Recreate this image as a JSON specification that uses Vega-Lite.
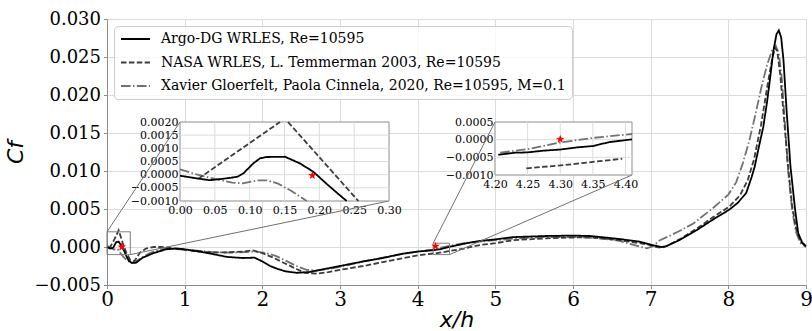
{
  "$schema": "https://vega.github.io/schema/vega-lite/v6.json",
  "autosize": "none",
  "width": 699,
  "height": 266,
  "padding": {"left": 107, "top": 19, "right": 6, "bottom": 46},
  "background": "white",
  "config": {
    "view": {"stroke": "#8c8c8c", "strokeWidth": 1},
    "axis": {"labelFont": "DejaVu Serif", "labelColor": "#000000", "tickColor": "#8c8c8c", "domainColor": "#8c8c8c", "gridColor": "#dcdcdc", "gridWidth": 1, "titleColor": "#000000", "labelOverlap": false, "labelSeparation": 0},
    "legend": {"padding": 6, "fillColor": "rgba(255,255,255,0.8)", "strokeColor": "#cccccc", "cornerRadius": 4, "labelFont": "DejaVu Serif", "labelFontSize": 14, "labelColor": "#000000", "labelLimit": 0, "symbolType": "stroke", "symbolSize": 841, "symbolStrokeWidth": 1.8, "rowPadding": 9.5, "clipHeight": 14, "labelOffset": 10}
  },
  "datasets": {
    "main": [
      {"s": "Xavier Gloerfelt, Paola Cinnela, 2020, Re=10595, M=0.1", "x": 0, "y": 0.0002},
      {"s": "Xavier Gloerfelt, Paola Cinnela, 2020, Re=10595, M=0.1", "x": 0.05, "y": -0.00016},
      {"s": "Xavier Gloerfelt, Paola Cinnela, 2020, Re=10595, M=0.1", "x": 0.09, "y": -0.00033},
      {"s": "Xavier Gloerfelt, Paola Cinnela, 2020, Re=10595, M=0.1", "x": 0.12, "y": -0.00021},
      {"s": "Xavier Gloerfelt, Paola Cinnela, 2020, Re=10595, M=0.1", "x": 0.14, "y": -0.00033},
      {"s": "Xavier Gloerfelt, Paola Cinnela, 2020, Re=10595, M=0.1", "x": 0.18, "y": -0.0009},
      {"s": "Xavier Gloerfelt, Paola Cinnela, 2020, Re=10595, M=0.1", "x": 0.22, "y": -0.0014},
      {"s": "Xavier Gloerfelt, Paola Cinnela, 2020, Re=10595, M=0.1", "x": 0.28, "y": -0.0019},
      {"s": "Xavier Gloerfelt, Paola Cinnela, 2020, Re=10595, M=0.1", "x": 0.33, "y": -0.0021},
      {"s": "Xavier Gloerfelt, Paola Cinnela, 2020, Re=10595, M=0.1", "x": 0.4, "y": -0.0017},
      {"s": "Xavier Gloerfelt, Paola Cinnela, 2020, Re=10595, M=0.1", "x": 0.55, "y": -0.0008},
      {"s": "Xavier Gloerfelt, Paola Cinnela, 2020, Re=10595, M=0.1", "x": 0.7, "y": -0.0003},
      {"s": "Xavier Gloerfelt, Paola Cinnela, 2020, Re=10595, M=0.1", "x": 0.8, "y": -0.0002},
      {"s": "Xavier Gloerfelt, Paola Cinnela, 2020, Re=10595, M=0.1", "x": 0.99, "y": -0.00035},
      {"s": "Xavier Gloerfelt, Paola Cinnela, 2020, Re=10595, M=0.1", "x": 1.19, "y": -0.0005},
      {"s": "Xavier Gloerfelt, Paola Cinnela, 2020, Re=10595, M=0.1", "x": 1.4, "y": -0.0007},
      {"s": "Xavier Gloerfelt, Paola Cinnela, 2020, Re=10595, M=0.1", "x": 1.6, "y": -0.00075},
      {"s": "Xavier Gloerfelt, Paola Cinnela, 2020, Re=10595, M=0.1", "x": 1.79, "y": -0.00066},
      {"s": "Xavier Gloerfelt, Paola Cinnela, 2020, Re=10595, M=0.1", "x": 1.92, "y": -0.0006},
      {"s": "Xavier Gloerfelt, Paola Cinnela, 2020, Re=10595, M=0.1", "x": 2.05, "y": -0.0008},
      {"s": "Xavier Gloerfelt, Paola Cinnela, 2020, Re=10595, M=0.1", "x": 2.18, "y": -0.0012},
      {"s": "Xavier Gloerfelt, Paola Cinnela, 2020, Re=10595, M=0.1", "x": 2.3, "y": -0.0018},
      {"s": "Xavier Gloerfelt, Paola Cinnela, 2020, Re=10595, M=0.1", "x": 2.44, "y": -0.0025},
      {"s": "Xavier Gloerfelt, Paola Cinnela, 2020, Re=10595, M=0.1", "x": 2.57, "y": -0.003},
      {"s": "Xavier Gloerfelt, Paola Cinnela, 2020, Re=10595, M=0.1", "x": 2.7, "y": -0.0031},
      {"s": "Xavier Gloerfelt, Paola Cinnela, 2020, Re=10595, M=0.1", "x": 2.9, "y": -0.0028},
      {"s": "Xavier Gloerfelt, Paola Cinnela, 2020, Re=10595, M=0.1", "x": 3.1, "y": -0.0024},
      {"s": "Xavier Gloerfelt, Paola Cinnela, 2020, Re=10595, M=0.1", "x": 3.3, "y": -0.0019},
      {"s": "Xavier Gloerfelt, Paola Cinnela, 2020, Re=10595, M=0.1", "x": 3.55, "y": -0.0014},
      {"s": "Xavier Gloerfelt, Paola Cinnela, 2020, Re=10595, M=0.1", "x": 3.8, "y": -0.0009},
      {"s": "Xavier Gloerfelt, Paola Cinnela, 2020, Re=10595, M=0.1", "x": 4.0, "y": -0.0006},
      {"s": "Xavier Gloerfelt, Paola Cinnela, 2020, Re=10595, M=0.1", "x": 4.21, "y": -0.00036},
      {"s": "Xavier Gloerfelt, Paola Cinnela, 2020, Re=10595, M=0.1", "x": 4.3, "y": -0.00008},
      {"s": "Xavier Gloerfelt, Paola Cinnela, 2020, Re=10595, M=0.1", "x": 4.41, "y": 0.00016},
      {"s": "Xavier Gloerfelt, Paola Cinnela, 2020, Re=10595, M=0.1", "x": 4.6, "y": 0.0005},
      {"s": "Xavier Gloerfelt, Paola Cinnela, 2020, Re=10595, M=0.1", "x": 4.8, "y": 0.0007},
      {"s": "Xavier Gloerfelt, Paola Cinnela, 2020, Re=10595, M=0.1", "x": 5.0, "y": 0.0009},
      {"s": "Xavier Gloerfelt, Paola Cinnela, 2020, Re=10595, M=0.1", "x": 5.23, "y": 0.0011},
      {"s": "Xavier Gloerfelt, Paola Cinnela, 2020, Re=10595, M=0.1", "x": 5.6, "y": 0.0013},
      {"s": "Xavier Gloerfelt, Paola Cinnela, 2020, Re=10595, M=0.1", "x": 6.1, "y": 0.0013},
      {"s": "Xavier Gloerfelt, Paola Cinnela, 2020, Re=10595, M=0.1", "x": 6.4, "y": 0.0011},
      {"s": "Xavier Gloerfelt, Paola Cinnela, 2020, Re=10595, M=0.1", "x": 6.6, "y": 0.0008},
      {"s": "Xavier Gloerfelt, Paola Cinnela, 2020, Re=10595, M=0.1", "x": 6.86, "y": 0.00004},
      {"s": "Xavier Gloerfelt, Paola Cinnela, 2020, Re=10595, M=0.1", "x": 6.95, "y": -0.00017},
      {"s": "Xavier Gloerfelt, Paola Cinnela, 2020, Re=10595, M=0.1", "x": 7.03, "y": 0.0001},
      {"s": "Xavier Gloerfelt, Paola Cinnela, 2020, Re=10595, M=0.1", "x": 7.12, "y": 0.0009},
      {"s": "Xavier Gloerfelt, Paola Cinnela, 2020, Re=10595, M=0.1", "x": 7.25, "y": 0.0015},
      {"s": "Xavier Gloerfelt, Paola Cinnela, 2020, Re=10595, M=0.1", "x": 7.37, "y": 0.0021},
      {"s": "Xavier Gloerfelt, Paola Cinnela, 2020, Re=10595, M=0.1", "x": 7.55, "y": 0.0031},
      {"s": "Xavier Gloerfelt, Paola Cinnela, 2020, Re=10595, M=0.1", "x": 7.8, "y": 0.0051},
      {"s": "Xavier Gloerfelt, Paola Cinnela, 2020, Re=10595, M=0.1", "x": 8.0, "y": 0.0069},
      {"s": "Xavier Gloerfelt, Paola Cinnela, 2020, Re=10595, M=0.1", "x": 8.1, "y": 0.0085},
      {"s": "Xavier Gloerfelt, Paola Cinnela, 2020, Re=10595, M=0.1", "x": 8.18, "y": 0.0108},
      {"s": "Xavier Gloerfelt, Paola Cinnela, 2020, Re=10595, M=0.1", "x": 8.27, "y": 0.014},
      {"s": "Xavier Gloerfelt, Paola Cinnela, 2020, Re=10595, M=0.1", "x": 8.35, "y": 0.0175},
      {"s": "Xavier Gloerfelt, Paola Cinnela, 2020, Re=10595, M=0.1", "x": 8.43, "y": 0.0212},
      {"s": "Xavier Gloerfelt, Paola Cinnela, 2020, Re=10595, M=0.1", "x": 8.5, "y": 0.024},
      {"s": "Xavier Gloerfelt, Paola Cinnela, 2020, Re=10595, M=0.1", "x": 8.56, "y": 0.0258},
      {"s": "Xavier Gloerfelt, Paola Cinnela, 2020, Re=10595, M=0.1", "x": 8.61, "y": 0.0265},
      {"s": "Xavier Gloerfelt, Paola Cinnela, 2020, Re=10595, M=0.1", "x": 8.65, "y": 0.0255},
      {"s": "Xavier Gloerfelt, Paola Cinnela, 2020, Re=10595, M=0.1", "x": 8.69, "y": 0.022},
      {"s": "Xavier Gloerfelt, Paola Cinnela, 2020, Re=10595, M=0.1", "x": 8.73, "y": 0.016},
      {"s": "Xavier Gloerfelt, Paola Cinnela, 2020, Re=10595, M=0.1", "x": 8.77, "y": 0.01},
      {"s": "Xavier Gloerfelt, Paola Cinnela, 2020, Re=10595, M=0.1", "x": 8.82, "y": 0.005},
      {"s": "Xavier Gloerfelt, Paola Cinnela, 2020, Re=10595, M=0.1", "x": 8.87, "y": 0.002},
      {"s": "Xavier Gloerfelt, Paola Cinnela, 2020, Re=10595, M=0.1", "x": 8.93, "y": 0.0005},
      {"s": "Xavier Gloerfelt, Paola Cinnela, 2020, Re=10595, M=0.1", "x": 9.0, "y": 0.0},
      {"s": "NASA WRLES, L. Temmerman 2003, Re=10595", "x": 0.03, "y": -0.0002},
      {"s": "NASA WRLES, L. Temmerman 2003, Re=10595", "x": 0.09, "y": 0.0009},
      {"s": "NASA WRLES, L. Temmerman 2003, Re=10595", "x": 0.15, "y": 0.0022},
      {"s": "NASA WRLES, L. Temmerman 2003, Re=10595", "x": 0.2, "y": 0.0006},
      {"s": "NASA WRLES, L. Temmerman 2003, Re=10595", "x": 0.25, "y": -0.0008},
      {"s": "NASA WRLES, L. Temmerman 2003, Re=10595", "x": 0.3, "y": -0.0017},
      {"s": "NASA WRLES, L. Temmerman 2003, Re=10595", "x": 0.35, "y": -0.0019},
      {"s": "NASA WRLES, L. Temmerman 2003, Re=10595", "x": 0.42, "y": -0.0008},
      {"s": "NASA WRLES, L. Temmerman 2003, Re=10595", "x": 0.5, "y": -0.0002},
      {"s": "NASA WRLES, L. Temmerman 2003, Re=10595", "x": 0.6, "y": 0.0},
      {"s": "NASA WRLES, L. Temmerman 2003, Re=10595", "x": 0.7, "y": 0.0},
      {"s": "NASA WRLES, L. Temmerman 2003, Re=10595", "x": 0.89, "y": -0.0002},
      {"s": "NASA WRLES, L. Temmerman 2003, Re=10595", "x": 1.1, "y": -0.0005},
      {"s": "NASA WRLES, L. Temmerman 2003, Re=10595", "x": 1.32, "y": -0.0007},
      {"s": "NASA WRLES, L. Temmerman 2003, Re=10595", "x": 1.55, "y": -0.0007},
      {"s": "NASA WRLES, L. Temmerman 2003, Re=10595", "x": 1.75, "y": -0.0006},
      {"s": "NASA WRLES, L. Temmerman 2003, Re=10595", "x": 1.88, "y": -0.00045},
      {"s": "NASA WRLES, L. Temmerman 2003, Re=10595", "x": 2.0, "y": -0.0008},
      {"s": "NASA WRLES, L. Temmerman 2003, Re=10595", "x": 2.14, "y": -0.0014},
      {"s": "NASA WRLES, L. Temmerman 2003, Re=10595", "x": 2.3, "y": -0.0022},
      {"s": "NASA WRLES, L. Temmerman 2003, Re=10595", "x": 2.44, "y": -0.0029},
      {"s": "NASA WRLES, L. Temmerman 2003, Re=10595", "x": 2.55, "y": -0.0034},
      {"s": "NASA WRLES, L. Temmerman 2003, Re=10595", "x": 2.7, "y": -0.0035},
      {"s": "NASA WRLES, L. Temmerman 2003, Re=10595", "x": 2.85, "y": -0.0033},
      {"s": "NASA WRLES, L. Temmerman 2003, Re=10595", "x": 3.0, "y": -0.003},
      {"s": "NASA WRLES, L. Temmerman 2003, Re=10595", "x": 3.3, "y": -0.0025},
      {"s": "NASA WRLES, L. Temmerman 2003, Re=10595", "x": 3.55, "y": -0.002},
      {"s": "NASA WRLES, L. Temmerman 2003, Re=10595", "x": 3.8, "y": -0.0015},
      {"s": "NASA WRLES, L. Temmerman 2003, Re=10595", "x": 4.0, "y": -0.0011},
      {"s": "NASA WRLES, L. Temmerman 2003, Re=10595", "x": 4.25, "y": -0.0008},
      {"s": "NASA WRLES, L. Temmerman 2003, Re=10595", "x": 4.4, "y": -0.00055},
      {"s": "NASA WRLES, L. Temmerman 2003, Re=10595", "x": 4.6, "y": -0.0002},
      {"s": "NASA WRLES, L. Temmerman 2003, Re=10595", "x": 4.8, "y": 0.00026},
      {"s": "NASA WRLES, L. Temmerman 2003, Re=10595", "x": 5.0, "y": 0.0005},
      {"s": "NASA WRLES, L. Temmerman 2003, Re=10595", "x": 5.23, "y": 0.0009},
      {"s": "NASA WRLES, L. Temmerman 2003, Re=10595", "x": 5.66, "y": 0.00114},
      {"s": "NASA WRLES, L. Temmerman 2003, Re=10595", "x": 6.0, "y": 0.00125},
      {"s": "NASA WRLES, L. Temmerman 2003, Re=10595", "x": 6.22, "y": 0.00128},
      {"s": "NASA WRLES, L. Temmerman 2003, Re=10595", "x": 6.6, "y": 0.0009},
      {"s": "NASA WRLES, L. Temmerman 2003, Re=10595", "x": 6.95, "y": 0.00035},
      {"s": "NASA WRLES, L. Temmerman 2003, Re=10595", "x": 7.08, "y": 0.0},
      {"s": "NASA WRLES, L. Temmerman 2003, Re=10595", "x": 7.14, "y": -0.0001},
      {"s": "NASA WRLES, L. Temmerman 2003, Re=10595", "x": 7.2, "y": 0.0001},
      {"s": "NASA WRLES, L. Temmerman 2003, Re=10595", "x": 7.37, "y": 0.001},
      {"s": "NASA WRLES, L. Temmerman 2003, Re=10595", "x": 7.59, "y": 0.0024},
      {"s": "NASA WRLES, L. Temmerman 2003, Re=10595", "x": 7.8, "y": 0.0039},
      {"s": "NASA WRLES, L. Temmerman 2003, Re=10595", "x": 8.01, "y": 0.0053},
      {"s": "NASA WRLES, L. Temmerman 2003, Re=10595", "x": 8.15, "y": 0.0068},
      {"s": "NASA WRLES, L. Temmerman 2003, Re=10595", "x": 8.25, "y": 0.0088},
      {"s": "NASA WRLES, L. Temmerman 2003, Re=10595", "x": 8.33, "y": 0.0115},
      {"s": "NASA WRLES, L. Temmerman 2003, Re=10595", "x": 8.42, "y": 0.016},
      {"s": "NASA WRLES, L. Temmerman 2003, Re=10595", "x": 8.5, "y": 0.021},
      {"s": "NASA WRLES, L. Temmerman 2003, Re=10595", "x": 8.56, "y": 0.0245},
      {"s": "NASA WRLES, L. Temmerman 2003, Re=10595", "x": 8.6, "y": 0.0262},
      {"s": "NASA WRLES, L. Temmerman 2003, Re=10595", "x": 8.63, "y": 0.0258},
      {"s": "NASA WRLES, L. Temmerman 2003, Re=10595", "x": 8.67, "y": 0.0225},
      {"s": "NASA WRLES, L. Temmerman 2003, Re=10595", "x": 8.72, "y": 0.0165},
      {"s": "NASA WRLES, L. Temmerman 2003, Re=10595", "x": 8.77, "y": 0.0105},
      {"s": "NASA WRLES, L. Temmerman 2003, Re=10595", "x": 8.82, "y": 0.0055},
      {"s": "NASA WRLES, L. Temmerman 2003, Re=10595", "x": 8.88, "y": 0.002},
      {"s": "NASA WRLES, L. Temmerman 2003, Re=10595", "x": 8.94, "y": 0.0006},
      {"s": "NASA WRLES, L. Temmerman 2003, Re=10595", "x": 9.0, "y": 0.0001},
      {"s": "Argo-DG WRLES, Re=10595", "x": 0, "y": 0.0},
      {"s": "Argo-DG WRLES, Re=10595", "x": 0.04, "y": -0.0002},
      {"s": "Argo-DG WRLES, Re=10595", "x": 0.08, "y": -0.0001},
      {"s": "Argo-DG WRLES, Re=10595", "x": 0.1, "y": 0.0003},
      {"s": "Argo-DG WRLES, Re=10595", "x": 0.12, "y": 0.00065},
      {"s": "Argo-DG WRLES, Re=10595", "x": 0.15, "y": 0.0007},
      {"s": "Argo-DG WRLES, Re=10595", "x": 0.19, "y": 0.0001},
      {"s": "Argo-DG WRLES, Re=10595", "x": 0.22, "y": -0.0005},
      {"s": "Argo-DG WRLES, Re=10595", "x": 0.25, "y": -0.0012},
      {"s": "Argo-DG WRLES, Re=10595", "x": 0.28, "y": -0.0018},
      {"s": "Argo-DG WRLES, Re=10595", "x": 0.32, "y": -0.0021},
      {"s": "Argo-DG WRLES, Re=10595", "x": 0.37, "y": -0.0021},
      {"s": "Argo-DG WRLES, Re=10595", "x": 0.46, "y": -0.0014},
      {"s": "Argo-DG WRLES, Re=10595", "x": 0.6, "y": -0.0008},
      {"s": "Argo-DG WRLES, Re=10595", "x": 0.76, "y": -0.0003},
      {"s": "Argo-DG WRLES, Re=10595", "x": 0.89, "y": -0.0002},
      {"s": "Argo-DG WRLES, Re=10595", "x": 1.0, "y": -0.0003},
      {"s": "Argo-DG WRLES, Re=10595", "x": 1.19, "y": -0.0006},
      {"s": "Argo-DG WRLES, Re=10595", "x": 1.35, "y": -0.0009},
      {"s": "Argo-DG WRLES, Re=10595", "x": 1.54, "y": -0.0013},
      {"s": "Argo-DG WRLES, Re=10595", "x": 1.75, "y": -0.00145},
      {"s": "Argo-DG WRLES, Re=10595", "x": 1.9, "y": -0.0014},
      {"s": "Argo-DG WRLES, Re=10595", "x": 2.0, "y": -0.0019},
      {"s": "Argo-DG WRLES, Re=10595", "x": 2.1, "y": -0.0025},
      {"s": "Argo-DG WRLES, Re=10595", "x": 2.2, "y": -0.0029},
      {"s": "Argo-DG WRLES, Re=10595", "x": 2.3, "y": -0.0032},
      {"s": "Argo-DG WRLES, Re=10595", "x": 2.44, "y": -0.0034},
      {"s": "Argo-DG WRLES, Re=10595", "x": 2.6, "y": -0.0033},
      {"s": "Argo-DG WRLES, Re=10595", "x": 2.8, "y": -0.0029},
      {"s": "Argo-DG WRLES, Re=10595", "x": 3.0, "y": -0.0025},
      {"s": "Argo-DG WRLES, Re=10595", "x": 3.3, "y": -0.0019},
      {"s": "Argo-DG WRLES, Re=10595", "x": 3.55, "y": -0.00145},
      {"s": "Argo-DG WRLES, Re=10595", "x": 3.8, "y": -0.0009},
      {"s": "Argo-DG WRLES, Re=10595", "x": 4.0, "y": -0.0006},
      {"s": "Argo-DG WRLES, Re=10595", "x": 4.2, "y": -0.00042},
      {"s": "Argo-DG WRLES, Re=10595", "x": 4.3, "y": -0.00028},
      {"s": "Argo-DG WRLES, Re=10595", "x": 4.4, "y": 0.0},
      {"s": "Argo-DG WRLES, Re=10595", "x": 4.63, "y": 0.0005},
      {"s": "Argo-DG WRLES, Re=10595", "x": 4.8, "y": 0.0008},
      {"s": "Argo-DG WRLES, Re=10595", "x": 5.0, "y": 0.001},
      {"s": "Argo-DG WRLES, Re=10595", "x": 5.23, "y": 0.0013},
      {"s": "Argo-DG WRLES, Re=10595", "x": 5.66, "y": 0.00145},
      {"s": "Argo-DG WRLES, Re=10595", "x": 6.0, "y": 0.0015},
      {"s": "Argo-DG WRLES, Re=10595", "x": 6.22, "y": 0.00145},
      {"s": "Argo-DG WRLES, Re=10595", "x": 6.6, "y": 0.00105},
      {"s": "Argo-DG WRLES, Re=10595", "x": 6.86, "y": 0.0007},
      {"s": "Argo-DG WRLES, Re=10595", "x": 7.0, "y": 0.0003},
      {"s": "Argo-DG WRLES, Re=10595", "x": 7.08, "y": 0.00013},
      {"s": "Argo-DG WRLES, Re=10595", "x": 7.14, "y": 0.0},
      {"s": "Argo-DG WRLES, Re=10595", "x": 7.2, "y": 0.0001},
      {"s": "Argo-DG WRLES, Re=10595", "x": 7.37, "y": 0.0009},
      {"s": "Argo-DG WRLES, Re=10595", "x": 7.59, "y": 0.0022},
      {"s": "Argo-DG WRLES, Re=10595", "x": 7.8, "y": 0.0036},
      {"s": "Argo-DG WRLES, Re=10595", "x": 8.01, "y": 0.0049},
      {"s": "Argo-DG WRLES, Re=10595", "x": 8.12, "y": 0.0058},
      {"s": "Argo-DG WRLES, Re=10595", "x": 8.23, "y": 0.0071},
      {"s": "Argo-DG WRLES, Re=10595", "x": 8.3, "y": 0.0092},
      {"s": "Argo-DG WRLES, Re=10595", "x": 8.34, "y": 0.0106},
      {"s": "Argo-DG WRLES, Re=10595", "x": 8.4, "y": 0.0135},
      {"s": "Argo-DG WRLES, Re=10595", "x": 8.45, "y": 0.0158},
      {"s": "Argo-DG WRLES, Re=10595", "x": 8.5, "y": 0.0192},
      {"s": "Argo-DG WRLES, Re=10595", "x": 8.54, "y": 0.0224},
      {"s": "Argo-DG WRLES, Re=10595", "x": 8.58, "y": 0.0258},
      {"s": "Argo-DG WRLES, Re=10595", "x": 8.62, "y": 0.028},
      {"s": "Argo-DG WRLES, Re=10595", "x": 8.65, "y": 0.0285},
      {"s": "Argo-DG WRLES, Re=10595", "x": 8.68, "y": 0.0276},
      {"s": "Argo-DG WRLES, Re=10595", "x": 8.71, "y": 0.0246},
      {"s": "Argo-DG WRLES, Re=10595", "x": 8.75, "y": 0.018},
      {"s": "Argo-DG WRLES, Re=10595", "x": 8.8, "y": 0.0106},
      {"s": "Argo-DG WRLES, Re=10595", "x": 8.86, "y": 0.0049},
      {"s": "Argo-DG WRLES, Re=10595", "x": 8.9, "y": 0.0018},
      {"s": "Argo-DG WRLES, Re=10595", "x": 8.95, "y": 0.0006},
      {"s": "Argo-DG WRLES, Re=10595", "x": 9.0, "y": 0.0001}
    ],
    "inset1": [
      {"s": "Xavier Gloerfelt, Paola Cinnela, 2020, Re=10595, M=0.1", "g": "X", "x": 0, "y": 0.0002},
      {"s": "Xavier Gloerfelt, Paola Cinnela, 2020, Re=10595, M=0.1", "g": "X", "x": 0.025, "y": 0.0},
      {"s": "Xavier Gloerfelt, Paola Cinnela, 2020, Re=10595, M=0.1", "g": "X", "x": 0.05, "y": -0.00016},
      {"s": "Xavier Gloerfelt, Paola Cinnela, 2020, Re=10595, M=0.1", "g": "X", "x": 0.075, "y": -0.0003},
      {"s": "Xavier Gloerfelt, Paola Cinnela, 2020, Re=10595, M=0.1", "g": "X", "x": 0.09, "y": -0.00033},
      {"s": "Xavier Gloerfelt, Paola Cinnela, 2020, Re=10595, M=0.1", "g": "X", "x": 0.11, "y": -0.00022},
      {"s": "Xavier Gloerfelt, Paola Cinnela, 2020, Re=10595, M=0.1", "g": "X", "x": 0.125, "y": -0.00022},
      {"s": "Xavier Gloerfelt, Paola Cinnela, 2020, Re=10595, M=0.1", "g": "X", "x": 0.14, "y": -0.00033},
      {"s": "Xavier Gloerfelt, Paola Cinnela, 2020, Re=10595, M=0.1", "g": "X", "x": 0.16, "y": -0.00062},
      {"s": "Xavier Gloerfelt, Paola Cinnela, 2020, Re=10595, M=0.1", "g": "X", "x": 0.182, "y": -0.001},
      {"s": "NASA WRLES, L. Temmerman 2003, Re=10595", "g": "N1", "x": 0.026, "y": -0.00016},
      {"s": "NASA WRLES, L. Temmerman 2003, Re=10595", "g": "N1", "x": 0.1435, "y": 0.002},
      {"s": "NASA WRLES, L. Temmerman 2003, Re=10595", "g": "N2", "x": 0.155, "y": 0.002},
      {"s": "NASA WRLES, L. Temmerman 2003, Re=10595", "g": "N2", "x": 0.256, "y": -0.001},
      {"s": "Argo-DG WRLES, Re=10595", "g": "A", "x": 0, "y": -0.00004},
      {"s": "Argo-DG WRLES, Re=10595", "g": "A", "x": 0.0287, "y": -0.00016},
      {"s": "Argo-DG WRLES, Re=10595", "g": "A", "x": 0.0431, "y": -0.00021},
      {"s": "Argo-DG WRLES, Re=10595", "g": "A", "x": 0.067, "y": -0.00014},
      {"s": "Argo-DG WRLES, Re=10595", "g": "A", "x": 0.0823, "y": -0.00008},
      {"s": "Argo-DG WRLES, Re=10595", "g": "A", "x": 0.091, "y": 0.00005},
      {"s": "Argo-DG WRLES, Re=10595", "g": "A", "x": 0.1053, "y": 0.00043},
      {"s": "Argo-DG WRLES, Re=10595", "g": "A", "x": 0.1148, "y": 0.00062},
      {"s": "Argo-DG WRLES, Re=10595", "g": "A", "x": 0.1244, "y": 0.00067},
      {"s": "Argo-DG WRLES, Re=10595", "g": "A", "x": 0.1507, "y": 0.00068},
      {"s": "Argo-DG WRLES, Re=10595", "g": "A", "x": 0.172, "y": 0.00043},
      {"s": "Argo-DG WRLES, Re=10595", "g": "A", "x": 0.1914, "y": 0.00011},
      {"s": "Argo-DG WRLES, Re=10595", "g": "A", "x": 0.2105, "y": -0.00035},
      {"s": "Argo-DG WRLES, Re=10595", "g": "A", "x": 0.2258, "y": -0.0007},
      {"s": "Argo-DG WRLES, Re=10595", "g": "A", "x": 0.2392, "y": -0.001}
    ],
    "inset2": [
      {"s": "Xavier Gloerfelt, Paola Cinnela, 2020, Re=10595, M=0.1", "g": "X", "x": 4.208, "y": -0.00037},
      {"s": "Xavier Gloerfelt, Paola Cinnela, 2020, Re=10595, M=0.1", "g": "X", "x": 4.25, "y": -0.00027},
      {"s": "Xavier Gloerfelt, Paola Cinnela, 2020, Re=10595, M=0.1", "g": "X", "x": 4.3, "y": -0.00008},
      {"s": "Xavier Gloerfelt, Paola Cinnela, 2020, Re=10595, M=0.1", "g": "X", "x": 4.35, "y": 0.00005},
      {"s": "Xavier Gloerfelt, Paola Cinnela, 2020, Re=10595, M=0.1", "g": "X", "x": 4.41, "y": 0.00016},
      {"s": "NASA WRLES, L. Temmerman 2003, Re=10595", "g": "N", "x": 4.248, "y": -0.00081},
      {"s": "NASA WRLES, L. Temmerman 2003, Re=10595", "g": "N", "x": 4.3, "y": -0.00073},
      {"s": "NASA WRLES, L. Temmerman 2003, Re=10595", "g": "N", "x": 4.35, "y": -0.00063},
      {"s": "NASA WRLES, L. Temmerman 2003, Re=10595", "g": "N", "x": 4.395, "y": -0.00054},
      {"s": "Argo-DG WRLES, Re=10595", "g": "A", "x": 4.205, "y": -0.00043},
      {"s": "Argo-DG WRLES, Re=10595", "g": "A", "x": 4.23, "y": -0.00037},
      {"s": "Argo-DG WRLES, Re=10595", "g": "A", "x": 4.25, "y": -0.00036},
      {"s": "Argo-DG WRLES, Re=10595", "g": "A", "x": 4.275, "y": -0.00031},
      {"s": "Argo-DG WRLES, Re=10595", "g": "A", "x": 4.3, "y": -0.00028},
      {"s": "Argo-DG WRLES, Re=10595", "g": "A", "x": 4.325, "y": -0.00022},
      {"s": "Argo-DG WRLES, Re=10595", "g": "A", "x": 4.35, "y": -0.00018},
      {"s": "Argo-DG WRLES, Re=10595", "g": "A", "x": 4.375, "y": -0.00007},
      {"s": "Argo-DG WRLES, Re=10595", "g": "A", "x": 4.41, "y": 0.00001}
    ],
    "boxes": [
      {"x1": 0, "x2": 0.3, "y1": -0.001, "y2": 0.002},
      {"x1": 4.2, "x2": 4.41, "y1": -0.001, "y2": 0.0005}
    ],
    "connectors": [
      {"x1": 0, "y1": 0.002, "x2": 0.94, "y2": 0.016447},
      {"x1": 0.3, "y1": -0.001, "x2": 3.631, "y2": 0.006053},
      {"x1": 4.2, "y1": 0.0005, "x2": 4.996, "y2": 0.016447},
      {"x1": 4.41, "y1": -0.001, "x2": 6.76, "y2": 0.009474}
    ],
    "starsMain": [{"x": 0.19, "y": 0.0}, {"x": 4.23, "y": 0.0001}],
    "star1": [{"x": 0.19, "y": -0.00003}],
    "star2": [{"x": 4.3, "y": 0.00001}],
    "g1x": [{"v": 0.05}, {"v": 0.1}, {"v": 0.15}, {"v": 0.2}, {"v": 0.25}],
    "g1y": [{"v": -0.0005}, {"v": 0}, {"v": 0.0005}, {"v": 0.001}, {"v": 0.0015}],
    "g2x": [{"v": 4.25}, {"v": 4.3}, {"v": 4.35}, {"v": 4.4}],
    "g2y": [{"v": -0.0005}, {"v": 0}]
  },
  "layer": [
    {
      "layer": [
        {
          "data": {"name": "main"},
          "mark": {"type": "line", "strokeWidth": 1.8},
          "encoding": {
            "x": {"field": "x", "type": "quantitative", "scale": {"domain": [0, 9], "nice": false, "zero": false},
              "axis": {"orient": "bottom", "values": [0, 1, 2, 3, 4, 5, 6, 7, 8, 9], "tickCount": 20, "format": "d", "labelFontSize": 20, "labelFlush": false, "labelOverlap": false, "labelPadding": 1, "tickSize": 3.5, "grid": true, "title": "x/h", "titleFont": "DejaVu Sans", "titleFontSize": 22, "titleFontStyle": "italic", "titleFontWeight": "normal", "titlePadding": 0}},
            "y": {"field": "y", "type": "quantitative", "scale": {"domain": [-0.005, 0.03], "nice": false, "zero": false},
              "axis": {"orient": "left", "values": [-0.005, 0, 0.005, 0.01, 0.015, 0.02, 0.025, 0.03], "tickCount": 20, "format": ".3f", "labelFontSize": 18, "labelOverlap": false, "labelPadding": 3, "tickSize": 3.5, "grid": true, "title": "Cf", "titleFont": "DejaVu Sans", "titleFontSize": 22, "titleFontStyle": "italic", "titleFontWeight": "normal", "titlePadding": 6}},
            "color": {"field": "s", "type": "nominal",
              "scale": {"domain": ["Argo-DG WRLES, Re=10595", "NASA WRLES, L. Temmerman 2003, Re=10595", "Xavier Gloerfelt, Paola Cinnela, 2020, Re=10595, M=0.1"], "range": ["#000000", "#3c3c3c", "#727272"]},
              "legend": {"title": null, "orient": "top-left", "offset": 7, "zindex": 1}},
            "strokeDash": {"field": "s", "type": "nominal",
              "scale": {"domain": ["Argo-DG WRLES, Re=10595", "NASA WRLES, L. Temmerman 2003, Re=10595", "Xavier Gloerfelt, Paola Cinnela, 2020, Re=10595, M=0.1"], "range": [[1, 0], [5.5, 2.4], [9.6, 2.4, 1.5, 2.4]]},
              "legend": {"title": null, "orient": "top-left", "offset": 7, "zindex": 1}}
          }
        },
        {
          "data": {"name": "boxes"},
          "mark": {"type": "rect", "fillOpacity": 0, "stroke": "#7f7f7f", "strokeWidth": 1},
          "encoding": {
            "x": {"field": "x1", "type": "quantitative", "scale": {"domain": [0, 9], "nice": false, "zero": false}},
            "x2": {"field": "x2"},
            "y": {"field": "y1", "type": "quantitative", "scale": {"domain": [-0.005, 0.03], "nice": false, "zero": false}},
            "y2": {"field": "y2"}
          }
        },
        {
          "data": {"name": "connectors"},
          "mark": {"type": "rule", "color": "#707070", "strokeWidth": 1},
          "encoding": {
            "x": {"field": "x1", "type": "quantitative", "scale": {"domain": [0, 9], "nice": false, "zero": false}},
            "x2": {"field": "x2"},
            "y": {"field": "y1", "type": "quantitative", "scale": {"domain": [-0.005, 0.03], "nice": false, "zero": false}},
            "y2": {"field": "y2"}
          }
        },
        {
          "data": {"name": "starsMain"},
          "mark": {"type": "point", "shape": "M0,-1L0.235,-0.324L0.951,-0.309L0.38,0.124L0.588,0.809L0,0.4L-0.588,0.809L-0.38,0.124L-0.951,-0.309L-0.235,-0.324Z", "filled": true, "color": "#ff0000", "opacity": 1, "size": 81},
          "encoding": {
            "x": {"field": "x", "type": "quantitative", "scale": {"domain": [0, 9], "nice": false, "zero": false}},
            "y": {"field": "y", "type": "quantitative", "scale": {"domain": [-0.005, 0.03], "nice": false, "zero": false}}
          }
        }
      ]
    },
    {
      "layer": [
        {
          "data": {"values": [{}]},
          "mark": {"type": "rect", "fill": "#ffffff", "stroke": "#8c8c8c", "strokeWidth": 1},
          "encoding": {
            "x": {"datum": 0, "type": "quantitative", "scale": {"domain": [0, 0.3], "range": [73, 282], "nice": false, "zero": false}},
            "x2": {"datum": 0.3},
            "y": {"datum": -0.001, "type": "quantitative", "scale": {"domain": [-0.001, 0.002], "range": [182, 103], "nice": false, "zero": false}},
            "y2": {"datum": 0.002}
          }
        },
        {
          "data": {"name": "g1x"},
          "mark": {"type": "rule", "color": "#dcdcdc", "strokeWidth": 1},
          "encoding": {
            "x": {"field": "v", "type": "quantitative", "scale": {"domain": [0, 0.3], "range": [73, 282], "nice": false, "zero": false}},
            "y": {"datum": -0.001, "type": "quantitative", "scale": {"domain": [-0.001, 0.002], "range": [182, 103], "nice": false, "zero": false}},
            "y2": {"datum": 0.002}
          }
        },
        {
          "data": {"name": "g1y"},
          "mark": {"type": "rule", "color": "#dcdcdc", "strokeWidth": 1},
          "encoding": {
            "y": {"field": "v", "type": "quantitative", "scale": {"domain": [-0.001, 0.002], "range": [182, 103], "nice": false, "zero": false}},
            "x": {"datum": 0, "type": "quantitative", "scale": {"domain": [0, 0.3], "range": [73, 282], "nice": false, "zero": false}},
            "x2": {"datum": 0.3}
          }
        },
        {
          "data": {"name": "inset1"},
          "mark": {"type": "line", "strokeWidth": 1.8},
          "encoding": {
            "x": {"field": "x", "type": "quantitative", "scale": {"domain": [0, 0.3], "range": [73, 282], "nice": false, "zero": false},
              "axis": {"orient": "bottom", "offset": -84, "values": [0, 0.05, 0.1, 0.15, 0.2, 0.25, 0.3], "tickCount": 20, "format": ".2f", "labelFontSize": 11, "labelFlush": false, "labelOverlap": false, "labelPadding": 3, "tickSize": 0, "domain": false, "grid": false, "title": null}},
            "y": {"field": "y", "type": "quantitative", "scale": {"domain": [-0.001, 0.002], "range": [182, 103], "nice": false, "zero": false},
              "axis": {"orient": "left", "offset": -73, "values": [-0.001, -0.0005, 0, 0.0005, 0.001, 0.0015, 0.002], "tickCount": 20, "format": ".4f", "labelFontSize": 11, "labelOverlap": false, "labelPadding": 2, "tickSize": 0, "domain": false, "grid": false, "title": null}},
            "detail": {"field": "g", "type": "nominal"},
            "color": {"field": "s", "type": "nominal",
              "scale": {"domain": ["Argo-DG WRLES, Re=10595", "NASA WRLES, L. Temmerman 2003, Re=10595", "Xavier Gloerfelt, Paola Cinnela, 2020, Re=10595, M=0.1"], "range": ["#000000", "#3c3c3c", "#727272"]}, "legend": null},
            "strokeDash": {"field": "s", "type": "nominal",
              "scale": {"domain": ["Argo-DG WRLES, Re=10595", "NASA WRLES, L. Temmerman 2003, Re=10595", "Xavier Gloerfelt, Paola Cinnela, 2020, Re=10595, M=0.1"], "range": [[1, 0], [5.5, 2.4], [9.6, 2.4, 1.5, 2.4]]}, "legend": null}
          }
        },
        {
          "data": {"name": "star1"},
          "mark": {"type": "point", "shape": "M0,-1L0.235,-0.324L0.951,-0.309L0.38,0.124L0.588,0.809L0,0.4L-0.588,0.809L-0.38,0.124L-0.951,-0.309L-0.235,-0.324Z", "filled": true, "color": "#ff0000", "opacity": 1, "size": 81},
          "encoding": {
            "x": {"field": "x", "type": "quantitative", "scale": {"domain": [0, 0.3], "range": [73, 282], "nice": false, "zero": false}},
            "y": {"field": "y", "type": "quantitative", "scale": {"domain": [-0.001, 0.002], "range": [182, 103], "nice": false, "zero": false}}
          }
        }
      ]
    },
    {
      "layer": [
        {
          "data": {"values": [{}]},
          "mark": {"type": "rect", "fill": "#ffffff", "stroke": "#8c8c8c", "strokeWidth": 1},
          "encoding": {
            "x": {"datum": 4.2, "type": "quantitative", "scale": {"domain": [4.2, 4.41], "range": [388, 525], "nice": false, "zero": false}},
            "x2": {"datum": 4.41},
            "y": {"datum": -0.001, "type": "quantitative", "scale": {"domain": [-0.001, 0.0005], "range": [156, 103], "nice": false, "zero": false}},
            "y2": {"datum": 0.0005}
          }
        },
        {
          "data": {"name": "g2x"},
          "mark": {"type": "rule", "color": "#dcdcdc", "strokeWidth": 1},
          "encoding": {
            "x": {"field": "v", "type": "quantitative", "scale": {"domain": [4.2, 4.41], "range": [388, 525], "nice": false, "zero": false}},
            "y": {"datum": -0.001, "type": "quantitative", "scale": {"domain": [-0.001, 0.0005], "range": [156, 103], "nice": false, "zero": false}},
            "y2": {"datum": 0.0005}
          }
        },
        {
          "data": {"name": "g2y"},
          "mark": {"type": "rule", "color": "#dcdcdc", "strokeWidth": 1},
          "encoding": {
            "y": {"field": "v", "type": "quantitative", "scale": {"domain": [-0.001, 0.0005], "range": [156, 103], "nice": false, "zero": false}},
            "x": {"datum": 4.2, "type": "quantitative", "scale": {"domain": [4.2, 4.41], "range": [388, 525], "nice": false, "zero": false}},
            "x2": {"datum": 4.41}
          }
        },
        {
          "data": {"name": "inset2"},
          "mark": {"type": "line", "strokeWidth": 1.8},
          "encoding": {
            "x": {"field": "x", "type": "quantitative", "scale": {"domain": [4.2, 4.41], "range": [388, 525], "nice": false, "zero": false},
              "axis": {"orient": "bottom", "offset": -110, "values": [4.2, 4.25, 4.3, 4.35, 4.4], "tickCount": 20, "format": ".2f", "labelFontSize": 11, "labelFlush": false, "labelOverlap": false, "labelPadding": 3, "tickSize": 0, "domain": false, "grid": false, "title": null}},
            "y": {"field": "y", "type": "quantitative", "scale": {"domain": [-0.001, 0.0005], "range": [156, 103], "nice": false, "zero": false},
              "axis": {"orient": "left", "offset": -388, "values": [-0.001, -0.0005, 0, 0.0005], "tickCount": 20, "format": ".4f", "labelFontSize": 11, "labelOverlap": false, "labelPadding": 2, "tickSize": 0, "domain": false, "grid": false, "title": null}},
            "detail": {"field": "g", "type": "nominal"},
            "color": {"field": "s", "type": "nominal",
              "scale": {"domain": ["Argo-DG WRLES, Re=10595", "NASA WRLES, L. Temmerman 2003, Re=10595", "Xavier Gloerfelt, Paola Cinnela, 2020, Re=10595, M=0.1"], "range": ["#000000", "#3c3c3c", "#727272"]}, "legend": null},
            "strokeDash": {"field": "s", "type": "nominal",
              "scale": {"domain": ["Argo-DG WRLES, Re=10595", "NASA WRLES, L. Temmerman 2003, Re=10595", "Xavier Gloerfelt, Paola Cinnela, 2020, Re=10595, M=0.1"], "range": [[1, 0], [5.5, 2.4], [9.6, 2.4, 1.5, 2.4]]}, "legend": null}
          }
        },
        {
          "data": {"name": "star2"},
          "mark": {"type": "point", "shape": "M0,-1L0.235,-0.324L0.951,-0.309L0.38,0.124L0.588,0.809L0,0.4L-0.588,0.809L-0.38,0.124L-0.951,-0.309L-0.235,-0.324Z", "filled": true, "color": "#ff0000", "opacity": 1, "size": 81},
          "encoding": {
            "x": {"field": "x", "type": "quantitative", "scale": {"domain": [4.2, 4.41], "range": [388, 525], "nice": false, "zero": false}},
            "y": {"field": "y", "type": "quantitative", "scale": {"domain": [-0.001, 0.0005], "range": [156, 103], "nice": false, "zero": false}}
          }
        }
      ]
    }
  ],
  "resolve": {"scale": {"x": "independent", "y": "independent"}}
}
